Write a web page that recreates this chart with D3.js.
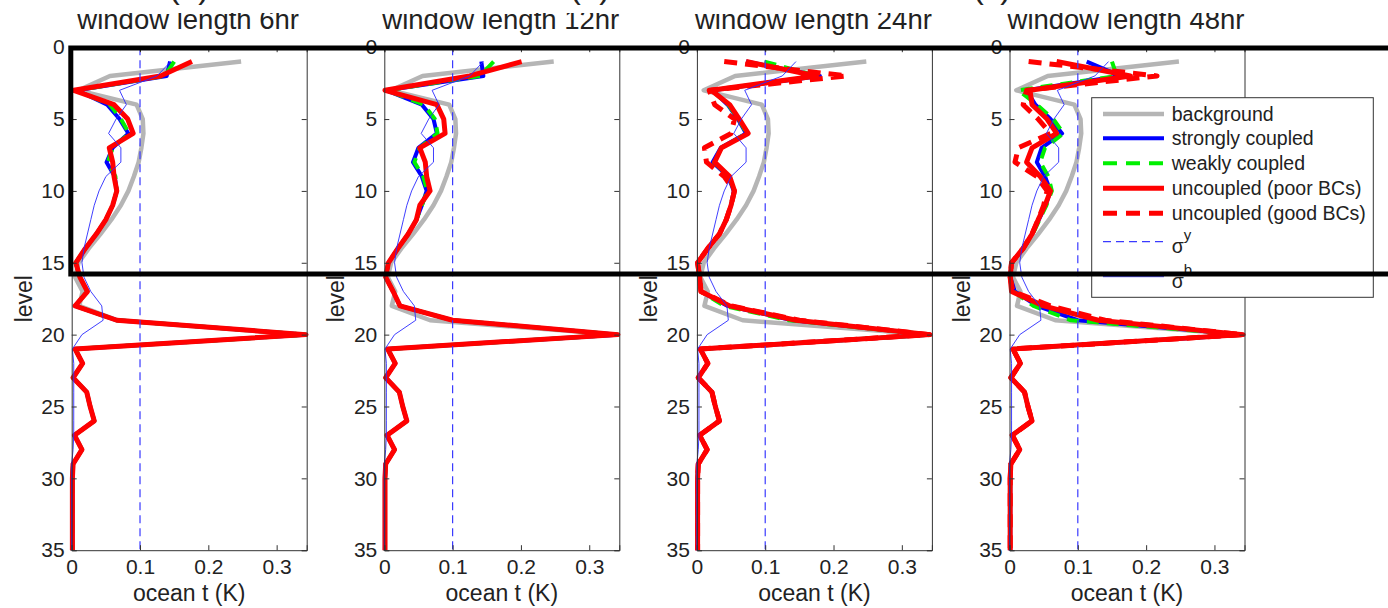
<!DOCTYPE html>
<html>
<head>
<meta charset="utf-8">
<script src="https://cdn.jsdelivr.net/npm/d3@7"></script>
<style>
  body { margin: 0; background: #fff; }
  svg { display: block; font-family: "Liberation Sans", Arial, sans-serif; }
</style>
</head>
<body>
<div id="chart"></div>
<script>
// ocean t increment profiles, one panel per assimilation window length

const levels = [1,2,3,4,5,6,7,8,9,10,11,12,13,14,15,16,17,18,19,20,
  21,22,23,24,25,26,27,28,29,30,31,32,33,34,35];
const windowTitles = ["window length 6hr", "window length 12hr", "window length 24hr", "window length 48hr"];
const panelTags = ["(a)", "(b)", "(c)"];
const xTicks = [0, 0.1, 0.2, 0.3];
const yTicks = [0, 5, 10, 15, 20, 25, 30, 35];
const sigmaY = 0.1;

// deep ocean part (levels 21-35), same in every panel
const deepOcean = [0.005,0.016,0.002,0.022,0.027,0.033,0.004,0.015,0.002,0.001,0.001,0.001,0.001,0.001,0.001];

const background = [0.248,0.056,0.010,0.095,0.104,0.105,0.102,0.098,0.091,0.083,0.072,0.058,0.042,0.025,0.010,
  0.005,0.016,0.011,0.067,0.340, ...deepOcean];
const sigmaB = [0.145,0.125,0.070,0.080,0.065,0.054,0.072,0.072,0.050,0.040,0.033,0.028,0.023,0.018,0.015,
  0.018,0.028,0.044,0.046,0.015,0.001,0.003,0.003,0.003,0.003,0.003,0.003,0.002,0,0,0,0,0,0,0];

// 6hr
const strong6 = [0.144,0.139,0.008,0.052,0.070,0.083,0.060,0.051,0.063,0.066,0.060,0.050,0.036,0.020,0.006,
  0.012,0.023,0.005,0.066,0.343, ...deepOcean];
const weak6 = [0.150,0.136,0.008,0.056,0.072,0.084,0.060,0.053,0.064,0.066,0.060,0.050,0.036,0.020,0.006,
  0.012,0.023,0.005,0.066,0.343, ...deepOcean];
const poor6 = [0.176,0.130,0.003,0.062,0.082,0.090,0.055,0.060,0.062,0.066,0.060,0.050,0.036,0.020,0.006,
  0.012,0.023,0.005,0.066,0.343, ...deepOcean];

// 12hr
const strong12 = [0.142,0.145,0.003,0.055,0.072,0.077,0.050,0.042,0.055,0.062,0.055,0.047,0.035,0.020,0.006,
  0.002,0.013,0.023,0.100,0.342, ...deepOcean];
const weak12 = [0.160,0.140,0.004,0.058,0.074,0.078,0.052,0.044,0.057,0.063,0.055,0.047,0.035,0.020,0.006,
  0.002,0.013,0.023,0.100,0.342, ...deepOcean];
const poor12 = [0.201,0.125,0.001,0.077,0.087,0.089,0.052,0.060,0.062,0.067,0.052,0.047,0.035,0.020,0.006,
  0.002,0.013,0.023,0.100,0.342, ...deepOcean];

// 24hr
const strong24 = [0.072,0.180,0.023,0.045,0.060,0.072,0.035,0.023,0.046,0.054,0.050,0.043,0.033,0.016,0.001,
  0.004,0.006,0.045,0.140,0.341, ...deepOcean];
const weak24 = [0.099,0.175,0.022,0.046,0.061,0.073,0.036,0.025,0.047,0.055,0.050,0.043,0.033,0.016,0.001,
  0.004,0.006,0.040,0.135,0.341, ...deepOcean];
const poor24 = [0.072,0.175,0.021,0.048,0.062,0.075,0.036,0.026,0.048,0.055,0.050,0.043,0.033,0.016,0.001,
  0.004,0.006,0.048,0.145,0.341, ...deepOcean];
const good24 = [0.040,0.219,0.018,0.026,0.055,0.050,0.011,0.014,0.040,0.055,0.050,0.043,0.033,0.016,0.001,
  0.004,0.006,0.050,0.150,0.341, ...deepOcean];

// 48hr
const strong48 = [0.113,0.162,0.025,0.038,0.060,0.077,0.047,0.040,0.052,0.060,0.053,0.043,0.033,0.020,0.003,
  0.001,0.008,0.040,0.100,0.342, ...deepOcean];
const weak48 = [0.150,0.157,0.013,0.040,0.064,0.079,0.052,0.045,0.057,0.062,0.054,0.044,0.034,0.020,0.003,
  0.001,0.006,0.035,0.090,0.342, ...deepOcean];
const poor48 = [0.069,0.177,0.030,0.033,0.055,0.069,0.033,0.025,0.045,0.060,0.052,0.042,0.033,0.020,0.003,
  0.001,0.003,0.050,0.130,0.342, ...deepOcean];
const good48 = [0.028,0.216,0.025,0.020,0.042,0.060,0.013,0.008,0.040,0.055,0.050,0.042,0.033,0.020,0.003,
  0.001,0.005,0.060,0.140,0.342, ...deepOcean];

const panels = [
  { strong: strong6,  weak: weak6,  poor: poor6,  good: null },
  { strong: strong12, weak: weak12, poor: poor12, good: null },
  { strong: strong24, weak: weak24, poor: poor24, good: good24 },
  { strong: strong48, weak: weak48, poor: poor48, good: good48 }
];

const styles = {
  background: { color: "#b5b5b5", width: 4.5, dash: null, label: "background" },
  strong:     { color: "#0000ff", width: 4,   dash: null, label: "strongly coupled" },
  weak:       { color: "#00f000", width: 4,   dash: "12,8", label: "weakly coupled" },
  poor:       { color: "#ff0000", width: 5,   dash: null, label: "uncoupled (poor BCs)" },
  good:       { color: "#ff0000", width: 5,   dash: "13,8", label: "uncoupled (good BCs)" },
  sigmaY:     { color: "#3a3aff", width: 1.2, dash: "8,5", label: "σ", sup: "y" },
  sigmaB:     { color: "#2a2aff", width: 0.9, dash: null, label: "σ", sup: "b" }
};

// Layout
const W = 1388, H = 608;
const plotW = 235, plotH = 503;
const plotTop = 47.2, left0 = 71.7, step = 312.6;

const svg = d3.select("#chart").append("svg").attr("width", W).attr("height", H);

const x = d3.scaleLinear().domain([0, 0.344]).range([0, plotW]);
const y = d3.scaleLinear().domain([0, 35]).range([0, plotH]);
const line = d3.line().x(d => x(d[0])).y(d => y(d[1]));

// clip for the partly hidden titles
svg.append("clipPath").attr("id", "titleClip")
  .append("rect").attr("x", 0).attr("y", 13).attr("width", W).attr("height", 40);

// tags of the row above, almost entirely outside the picture
[189, 590, 992].forEach((cx, i) => {
  svg.append("text")
    .attr("x", cx).attr("y", -2)
    .attr("text-anchor", "middle")
    .style("font-size", "33px")
    .style("fill", "#222")
    .text(panelTags[i]);
});

panels.forEach((p, i) => {
  const g = svg.append("g").attr("transform", `translate(${left0 + i * step},${plotTop})`);

  g.append("rect").attr("width", plotW).attr("height", plotH).attr("fill", "#fff");

  const order = ["background", "strong", "weak", "poor", "good"];
  order.forEach(k => {
    const vals = k === "background" ? background : p[k];
    if (!vals) return;
    const st = styles[k];
    g.append("path")
      .datum(vals.map((v, j) => [v, levels[j]]))
      .attr("d", line)
      .attr("fill", "none")
      .attr("stroke", st.color)
      .attr("stroke-width", st.width)
      .attr("stroke-linejoin", "round")
      .attr("stroke-dasharray", st.dash);
  });

  // sigma y (obs error) dashed vertical line
  g.append("path")
    .datum([[sigmaY, 0], [sigmaY, 35]])
    .attr("d", line)
    .attr("fill", "none")
    .attr("stroke", styles.sigmaY.color)
    .attr("stroke-width", styles.sigmaY.width)
    .attr("stroke-dasharray", styles.sigmaY.dash);

  // sigma b
  g.append("path")
    .datum(sigmaB.map((v, j) => [v, levels[j]]))
    .attr("d", line)
    .attr("fill", "none")
    .attr("stroke", styles.sigmaB.color)
    .attr("stroke-width", styles.sigmaB.width);

  // axes, ticks inside (matlab box)
  const fmt = d => d === 0 ? "0" : d3.format(".1f")(d);
  g.append("g")
    .call(d3.axisLeft(y).tickValues(yTicks).tickSize(-5).tickPadding(7).tickFormat(d3.format("d")))
    .call(a => a.selectAll("text").style("font-size", "21px").style("fill", "#222"));
  g.append("g").attr("transform", `translate(${plotW},0)`)
    .call(d3.axisRight(y).tickValues(yTicks).tickSize(-5).tickFormat(""));
  g.append("g").attr("transform", `translate(0,${plotH})`)
    .call(d3.axisBottom(x).tickValues(xTicks).tickSize(-5).tickPadding(9).tickFormat(fmt))
    .call(a => a.selectAll("text").style("font-size", "21px").style("fill", "#222"));
  g.append("g")
    .call(d3.axisTop(x).tickValues(xTicks).tickSize(-5).tickFormat(""));
  g.selectAll(".domain, .tick line").attr("stroke", "#333");
  g.selectAll("g").attr("font-family", null);

  // labels
  g.append("text")
    .attr("transform", `translate(-40,${plotH / 2}) rotate(-90)`)
    .attr("text-anchor", "middle")
    .style("font-size", "23px")
    .style("fill", "#222")
    .text("level");
  g.append("text")
    .attr("x", plotW / 2).attr("y", plotH + 51)
    .attr("text-anchor", "middle")
    .style("font-size", "23px")
    .style("fill", "#222")
    .text("ocean t (K)");
  svg.append("text")
    .attr("x", left0 + i * step + plotW / 2 - 1).attr("y", 28.5)
    .attr("text-anchor", "middle")
    .attr("clip-path", "url(#titleClip)")
    .style("font-size", "27.5px")
    .style("fill", "#222")
    .text(windowTitles[i]);
});

// Legend (inside last panel)
const legend = svg.append("g").attr("transform", "translate(1091.7,97.7)");
legend.append("rect")
  .attr("width", 281.6).attr("height", 199.6)
  .attr("fill", "#fff").attr("stroke", "#333").attr("stroke-width", 1);
const legendKeys = ["background", "strong", "weak", "poor", "good", "sigmaY", "sigmaB"];
const rowY = [16.3, 40.6, 65.6, 90.6, 115.6, 144, 179];
legendKeys.forEach((k, i) => {
  const st = styles[k];
  legend.append("line")
    .attr("x1", 11.3).attr("x2", 72.3)
    .attr("y1", rowY[i]).attr("y2", rowY[i])
    .attr("stroke", st.color)
    .attr("stroke-width", st.width)
    .attr("stroke-dasharray", k === "weak" || k === "good" ? "14,9" : st.dash);
  const t = legend.append("text")
    .attr("x", 80).attr("y", rowY[i] + 7)
    .style("font-size", "19.5px")
    .style("fill", "#222");
  if (st.sup) {
    t.attr("y", rowY[i] + 11).text(st.label);
    t.append("tspan").attr("dy", -13).style("font-size", "15px").text(st.sup);
  } else {
    t.text(st.label);
  }
});

// thick highlight box drawn over the upper part of the figure
svg.append("rect")
  .attr("x", 70.8).attr("y", 48)
  .attr("width", 1400).attr("height", 226)
  .attr("fill", "none")
  .attr("stroke", "#000")
  .attr("stroke-width", 5);
</script>
</body>
</html>
